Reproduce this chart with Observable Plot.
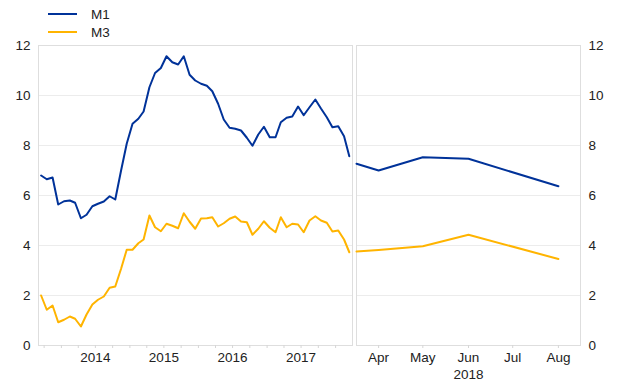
<!DOCTYPE html>
<html><head><meta charset="utf-8">
<script src="https://cdn.jsdelivr.net/npm/d3@7"></script>
<script src="https://cdn.jsdelivr.net/npm/@observablehq/plot@0.6"></script>
<style>
html,body{margin:0;padding:0;background:#fff;}
#wrap{position:relative;width:620px;height:387px;font-family:"Liberation Sans",Arial,sans-serif;color:#222;}
#wrap svg{position:absolute;top:0;}
.legend{position:absolute;left:48px;top:5px;font-size:13.5px;}
.legend div{display:flex;align-items:center;height:18px;}
.legend .sw{display:inline-block;width:29px;height:2px;margin-right:14px;}
</style></head><body><div id="wrap"></div>
<script>
// ---- data ----
const seriesNames = ["M1", "M3"];
const seriesColors = ["#003299", "#ffb400"];
const leftFirstMonth = "2013-09-15"; // monthly observations, mid-month
const m1Left = [6.80, 6.65, 6.72, 5.64, 5.77, 5.80, 5.71, 5.09, 5.23, 5.57, 5.67, 5.76, 5.97, 5.84,
  7.00, 8.07, 8.87, 9.07, 9.36, 10.33, 10.90, 11.10, 11.57, 11.33, 11.24, 11.57, 10.83, 10.60,
  10.47, 10.39, 10.17, 9.67, 9.04, 8.71, 8.67, 8.60, 8.31, 7.99, 8.44, 8.75, 8.33, 8.33,
  8.93, 9.11, 9.16, 9.56, 9.21, 9.53, 9.84, 9.48, 9.13, 8.73, 8.77, 8.37, 7.57];
const m3Left = [2.00, 1.43, 1.60, 0.93, 1.03, 1.16, 1.07, 0.76, 1.24, 1.64, 1.83, 1.96, 2.31, 2.36,
  3.07, 3.83, 3.83, 4.09, 4.24, 5.20, 4.73, 4.57, 4.87, 4.79, 4.69, 5.29, 4.95, 4.67,
  5.08, 5.09, 5.13, 4.76, 4.89, 5.07, 5.16, 4.96, 4.93, 4.43, 4.67, 4.97, 4.71, 4.53,
  5.13, 4.73, 4.87, 4.84, 4.53, 5.00, 5.17, 5.00, 4.91, 4.56, 4.60, 4.24, 3.73];
const rightDates = ["2018-03-31", "2018-04-15", "2018-05-15", "2018-06-15", "2018-08-15"];
const m1Right = [7.27, 7.00, 7.53, 7.47, 6.37];
const m3Right = [3.76, 3.82, 3.97, 4.43, 3.46];
const yTicks = [0, 2, 4, 6, 8, 10, 12];
const yearLabels = [2014, 2015, 2016, 2017];
const monthLabels = ["Apr", "May", "Jun", "Jul", "Aug"];
const rightYearLabel = "2018";

// ---- build tables ----
const start = new Date(leftFirstMonth);
const leftData = [];
m1Left.forEach((v, i) => leftData.push({date: d3.utcMonth.offset(start, i), value: v, series: "M1"}));
m3Left.forEach((v, i) => leftData.push({date: d3.utcMonth.offset(start, i), value: v, series: "M3"}));
const rightData = [];
rightDates.forEach((d, i) => rightData.push({date: new Date(d), value: m1Right[i], series: "M1"}));
rightDates.forEach((d, i) => rightData.push({date: new Date(d), value: m3Right[i], series: "M3"}));

const yearTicks = yearLabels.map(y => new Date(Date.UTC(y, 6, 1)));
const quarterTicks = d3.utcMonths(new Date(Date.UTC(2013, 9, 1)), new Date(Date.UTC(2018, 3, 1)), 3);
const monthTicks = monthLabels.map((m, i) => new Date(Date.UTC(2018, 3 + i, 15)));
const rightYearTick = [new Date(Date.UTC(+rightYearLabel, 5, 15))];

const font = {fontFamily: "'Liberation Sans', Arial, sans-serif", fontSize: "13.5px", color: "#222", background: "transparent"};
const colorScale = {domain: seriesNames, range: seriesColors};
const gridVals = yTicks.filter(v => v > 0 && v < 12);

const left = Plot.plot({
  width: 354, height: 387,
  marginLeft: 38, marginRight: 2, marginTop: 45, marginBottom: 42,
  style: font,
  x: {type: "utc", domain: [new Date("2013-09-01"), new Date("2018-04-01")], axis: null},
  y: {domain: [0, 12], axis: null},
  color: colorScale,
  marks: [
    Plot.gridY(gridVals, {stroke: "#ececec", strokeOpacity: 1}),
    Plot.frame({stroke: "#dedede"}),
    Plot.axisY(yTicks, {anchor: "left", tickSize: 0, tickPadding: 8, fontSize: 13.5, label: null}),
    Plot.axisX(quarterTicks, {anchor: "bottom", tickSize: 3, stroke: "#d6d6d6", tickFormat: () => "", label: null}),
    Plot.axisX(yearTicks, {anchor: "bottom", tickSize: 0, tickPadding: 7, tickFormat: d3.utcFormat("%Y"), fontSize: 13.5, label: null}),
    Plot.line(leftData, {x: "date", y: "value", z: "series", stroke: "series", strokeWidth: 2})
  ]
});

const right = Plot.plot({
  width: 266, height: 387,
  marginLeft: 2, marginRight: 40, marginTop: 45, marginBottom: 42,
  style: font,
  x: {type: "utc", domain: [new Date("2018-03-31"), new Date("2018-08-30")], axis: null},
  y: {domain: [0, 12], axis: null},
  color: colorScale,
  marks: [
    Plot.gridY(gridVals, {stroke: "#ececec", strokeOpacity: 1}),
    Plot.frame({stroke: "#dedede"}),
    Plot.axisY(yTicks, {anchor: "right", tickSize: 0, tickPadding: 8, fontSize: 13.5, label: null}),
    Plot.axisX(monthTicks, {anchor: "bottom", tickSize: 3, stroke: "#d6d6d6", tickFormat: () => "", label: null}),
    Plot.axisX(monthTicks, {anchor: "bottom", tickSize: 0, tickPadding: 7, tickFormat: (d, i) => monthLabels[i], fontSize: 13.5, label: null}),
    Plot.axisX(rightYearTick, {anchor: "bottom", tickSize: 0, tickPadding: 24, tickFormat: () => rightYearLabel, fontSize: 13.5, label: null}),
    Plot.line(rightData, {x: "date", y: "value", z: "series", stroke: "series", strokeWidth: 2})
  ]
});

const wrap = document.getElementById("wrap");
left.style.left = "0px";
right.style.left = "354px";
wrap.appendChild(left);
wrap.appendChild(right);

const legend = document.createElement("div");
legend.className = "legend";
seriesNames.forEach((n, i) => {
  const row = document.createElement("div");
  const sw = document.createElement("span");
  sw.className = "sw";
  sw.style.background = seriesColors[i];
  row.appendChild(sw);
  row.appendChild(document.createTextNode(n));
  legend.appendChild(row);
});
wrap.appendChild(legend);
</script></body></html>
